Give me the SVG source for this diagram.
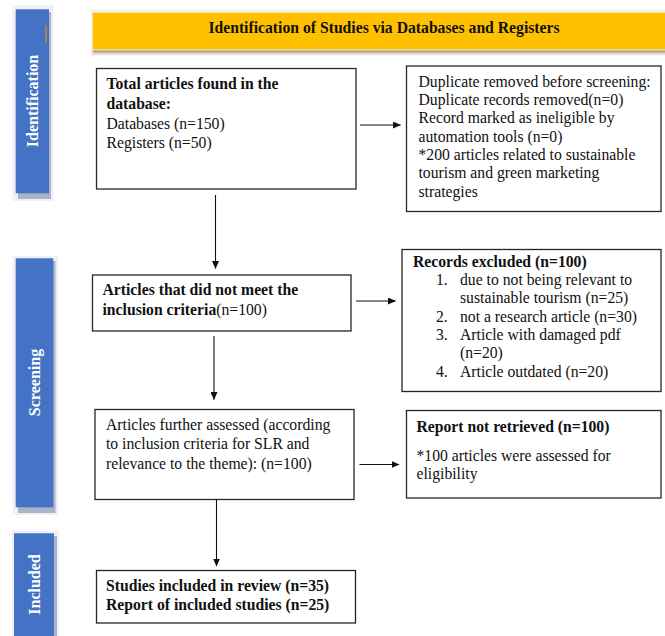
<svg xmlns="http://www.w3.org/2000/svg" width="665" height="636" viewBox="0 0 665 636">
  <defs>
    <style>
      .box { fill: #ffffff; stroke: #262626; stroke-width: 1.3; }
      .t { font-family: "Liberation Serif", "Times New Roman", serif; font-size: 15.7px; fill: #111111; }
      .b { font-weight: bold; }
      .side { font-family: "Liberation Serif", "Times New Roman", serif; font-size: 16px; font-weight: bold; fill: #ffffff; text-anchor: middle; }
      .frame { fill: #eef0f4; }
      .shade { fill: #a9b4ca; }
      .blue { fill: #4472c4; }
      .conn { stroke: #111111; stroke-width: 1.1; fill: none; marker-end: url(#arrow); }
      .plain { stroke: #111111; stroke-width: 1.1; fill: none; }
    </style>
    <marker id="arrow" markerWidth="8" markerHeight="7" refX="7.5" refY="3.5" orient="auto" markerUnits="userSpaceOnUse">
      <path d="M0,0 L8,3.5 L0,7 z" fill="#111111"/>
    </marker>
  </defs>
  <rect x="0" y="0" width="665" height="636" fill="#ffffff"/>

  <!-- Side labels -->
  <g id="side-identification">
    <rect class="frame" x="12.5" y="5" width="41" height="196"/>
    <rect class="shade" x="18" y="12" width="33" height="187"/>
    <rect class="blue" x="15.7" y="9.3" width="33.3" height="184"/>
    <rect x="45.3" y="25" width="1.4" height="18" fill="#c8892f"/>
    <text class="side" transform="translate(38.3,101) rotate(-90)">Identification</text>
  </g>
  <g id="side-screening">
    <rect class="frame" x="12.7" y="256" width="45.3" height="259"/>
    <rect class="shade" x="18" y="261" width="37.5" height="252"/>
    <rect class="blue" x="15.7" y="258.3" width="37.6" height="249"/>
    <text class="side" transform="translate(40,382.5) rotate(-90)">Screening</text>
  </g>
  <g id="side-included">
    <rect class="frame" x="12" y="530.7" width="47" height="105.3"/>
    <rect class="shade" x="17" y="536" width="40" height="100"/>
    <rect class="blue" x="14" y="533.3" width="40" height="102.7"/>
    <text class="side" transform="translate(39.5,584.5) rotate(-90)">Included</text>
  </g>

  <!-- Banner -->
  <g id="banner">
    <rect x="90.7" y="9.5" width="574.3" height="46" fill="#f1f1ee"/>
    <rect x="92.7" y="49.3" width="572.3" height="5.7" fill="#e6e0d0"/>
    <rect x="92.7" y="50.5" width="572.3" height="2.2" fill="#b8a57a"/>
    <rect x="92.7" y="12.7" width="572.3" height="36.6" fill="#ffc000"/>
    <text class="t b" x="384" y="33.3" text-anchor="middle">Identification of Studies via Databases and Registers</text>
  </g>

  <!-- Nodes -->
  <g id="node-total">
    <rect class="box" x="96.5" y="68.5" width="259.5" height="120.5"/>
    <text class="t b" x="106.5" y="88.5">Total articles found in the</text>
    <text class="t b" x="106.5" y="109">database:</text>
    <text class="t" x="106.5" y="128.5">Databases (n=150)</text>
    <text class="t" x="106.5" y="147.5">Registers (n=50)</text>
  </g>

  <g id="node-duplicates">
    <rect class="box" x="406.5" y="66" width="254.5" height="145.5"/>
    <text class="t" x="418.5" y="86.7">Duplicate removed before screening:</text>
    <text class="t" x="418.5" y="105">Duplicate records removed(n=0)</text>
    <text class="t" x="418.5" y="123.3">Record marked as ineligible by</text>
    <text class="t" x="418.5" y="141.7">automation tools (n=0)</text>
    <text class="t" x="418.5" y="160">*200 articles related to sustainable</text>
    <text class="t" x="418.5" y="178.3">tourism and green marketing</text>
    <text class="t" x="418.5" y="196.7">strategies</text>
  </g>

  <g id="node-not-meet">
    <rect class="box" x="92.5" y="275" width="258.5" height="56"/>
    <text class="t b" x="102.5" y="295">Articles that did not meet the</text>
    <text class="t" x="102.5" y="315"><tspan class="b">inclusion criteria</tspan>(n=100)</text>
  </g>

  <g id="node-excluded">
    <rect class="box" x="402" y="249.5" width="259" height="142"/>
    <text class="t b" x="413" y="266.7">Records excluded (n=100)</text>
    <text class="t" x="436" y="285">1.</text>
    <text class="t" x="460" y="285">due to not being relevant to</text>
    <text class="t" x="460" y="303.3">sustainable tourism (n=25)</text>
    <text class="t" x="436" y="321.7">2.</text>
    <text class="t" x="460" y="321.7">not a research article (n=30)</text>
    <text class="t" x="436" y="340">3.</text>
    <text class="t" x="460" y="340">Article with damaged pdf</text>
    <text class="t" x="460" y="358.3">(n=20)</text>
    <text class="t" x="436" y="376.7">4.</text>
    <text class="t" x="460" y="376.7">Article outdated (n=20)</text>
  </g>

  <g id="node-assessed">
    <rect class="box" x="95" y="409.5" width="259" height="90"/>
    <text class="t" x="106" y="429.5">Articles further assessed (according</text>
    <text class="t" x="106" y="449">to inclusion criteria for SLR and</text>
    <text class="t" x="106" y="468.5">relevance to the theme): (n=100)</text>
  </g>

  <g id="node-not-retrieved">
    <rect class="box" x="406.5" y="410.5" width="254.5" height="87.5"/>
    <text class="t b" x="416.5" y="431.5">Report not retrieved (n=100)</text>
    <text class="t" x="416.5" y="460.7">*100 articles were assessed for</text>
    <text class="t" x="416.5" y="479.3">eligibility</text>
  </g>

  <g id="node-included">
    <rect class="box" x="96.5" y="570.5" width="259" height="52.5"/>
    <text class="t b" x="106" y="591">Studies included in review (n=35)</text>
    <text class="t b" x="106" y="610">Report of included studies (n=25)</text>
  </g>

  <!-- Connectors -->
  <g id="connectors">
    <line class="conn" x1="360" y1="125" x2="400.5" y2="125"/>
    <line class="conn" x1="215.5" y1="195" x2="215.5" y2="268.5"/>
    <line class="conn" x1="356" y1="301" x2="395.5" y2="301"/>
    <line class="conn" x1="214" y1="336" x2="214" y2="399.5"/>
    <line class="conn" x1="359.5" y1="464.5" x2="399" y2="464.5"/>
    <line class="conn" x1="216.5" y1="500" x2="216.5" y2="566"/>
  </g>
</svg>
